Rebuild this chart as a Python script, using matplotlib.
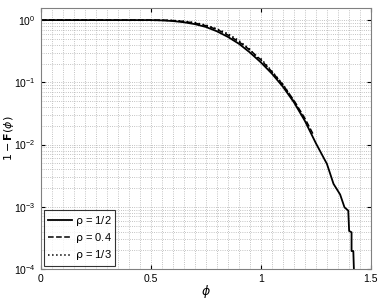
import numpy as np
import matplotlib.pyplot as plt
from matplotlib.ticker import MultipleLocator, LogLocator, NullFormatter

# rho = 1/2
phi_half = [0, 0.5, 0.55, 0.6, 0.65, 0.7, 0.75, 0.8, 0.85, 0.9, 0.95, 1.0, 1.05,
            1.1, 1.15, 1.2, 1.25, 1.3, 1.33, 1.36, 1.38, 1.397, 1.401, 1.412,
            1.412, 1.42, 1.423]
surv_half = [1.0, 1.0, 0.989, 0.966, 0.923, 0.861, 0.776, 0.661, 0.537, 0.417,
             0.302, 0.209, 0.138, 0.0851, 0.0479, 0.0240, 0.0105, 0.0049,
             0.00234, 0.00158, 0.00098, 0.00087, 0.00041, 0.00039, 0.000195,
             0.000195, 0.00009]

# rho = 0.4
phi_04 = [0, 0.55, 0.6, 0.65, 0.7, 0.75, 0.8, 0.85, 0.9, 0.95, 1.0, 1.05, 1.1,
          1.15, 1.2, 1.24]
surv_04 = [1.0, 1.0, 0.982, 0.951, 0.895, 0.813, 0.708, 0.575, 0.447, 0.331,
           0.229, 0.148, 0.0912, 0.0513, 0.0263, 0.0141]

# rho = 1/3
phi_third = [0, 0.6, 0.65, 0.7, 0.75, 0.8, 0.85, 0.9, 0.95, 0.98, 1.0, 1.05,
             1.1, 1.15, 1.2]
surv_third = [1.0, 0.989, 0.959, 0.912, 0.832, 0.724, 0.603, 0.468, 0.339,
              0.251, 0.240, 0.151, 0.0933, 0.0501, 0.0251]

fig = plt.figure(figsize=(3.82, 2.99), dpi=100)
ax = fig.add_axes([0.107, 0.1, 0.864, 0.873])

ax.semilogy(phi_half, surv_half, 'k-', lw=1.3, label=r'$\mathrm{\rho}$ = 1/2')
ax.semilogy(phi_04, surv_04, 'k--', lw=1.1, label=r'$\mathrm{\rho}$ = 0.4')
ax.semilogy(phi_third, surv_third, 'k:', lw=1.1, label=r'$\mathrm{\rho}$ = 1/3')

ax.set_xlim(0, 1.5)
ax.set_ylim(1e-4, 1.56)
ax.set_xticks([0, 0.5, 1, 1.5])
ax.set_xticklabels(['0', '0.5', '1', '1.5'])
ax.xaxis.set_minor_locator(MultipleLocator(0.05))
ax.yaxis.set_major_locator(LogLocator(base=10, numticks=10))
ax.yaxis.set_minor_locator(LogLocator(base=10, subs=np.arange(2, 10), numticks=20))
ax.yaxis.set_minor_formatter(NullFormatter())

ax.grid(True, which='both', color='#b0b0b0', linestyle=':', linewidth=0.6)
ax.tick_params(which='both', direction='in', top=True, right=True,
               labelsize=7.5, length=3)
ax.tick_params(axis='y', pad=4)
ax.tick_params(which='minor', length=0)
for lab in ax.get_xticklabels() + ax.get_yticklabels():
    lab.set_family('Liberation Sans')
for s in ax.spines.values():
    s.set_color('#808080')
    s.set_linewidth(0.8)

ax.set_xlabel(r'$\phi$', fontsize=9)
ax.set_ylabel(r'$1-\mathbf{F}(\phi)$', fontsize=8)
ax.xaxis.set_label_coords(0.5, -0.084)
ax.xaxis.label.set_va('center')
ax.yaxis.set_label_coords(-0.098, 0.5)
ax.yaxis.label.set_va('center')

leg = ax.legend(loc='lower left', handlelength=2.2, handletextpad=0.3,
                borderpad=0.3, labelspacing=0.3, fancybox=False,
                borderaxespad=0.3, prop={'family': 'Liberation Sans', 'size': 8})
leg.get_frame().set_edgecolor('k')
leg.get_frame().set_linewidth(0.8)

fig.savefig('out.png', dpi=100)
